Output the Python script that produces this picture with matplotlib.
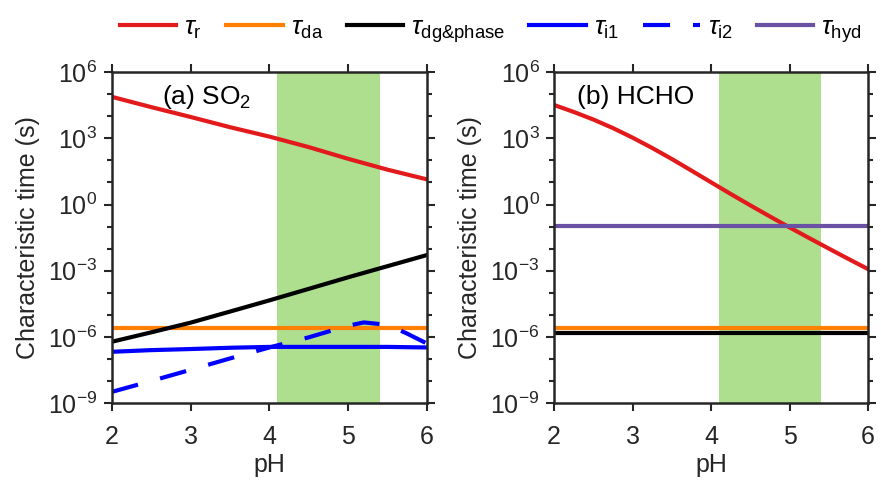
import numpy as np
import matplotlib
matplotlib.use('Agg')
import matplotlib.pyplot as plt
import matplotlib.ticker as mticker

plt.rcParams['font.family'] = ['Liberation Sans', 'DejaVu Sans']
plt.rcParams['mathtext.fontset'] = 'custom'
plt.rcParams['mathtext.rm'] = 'Liberation Sans'
plt.rcParams['mathtext.it'] = 'Liberation Sans:italic'
plt.rcParams['mathtext.bf'] = 'Liberation Sans:bold'

# pH grid shared by most curves
ph = [2.0, 2.5, 3.0, 3.5, 4.0, 4.5, 5.0, 5.5, 6.0]

# (a) SO2 characteristic times (s)
so2_r = [7.6e4, 2.6e4, 9.3e3, 3.2e3, 1.2e3, 400, 118, 38, 13.8]
so2_da = [2.5e-6] * len(ph)
so2_dg = [6.0e-7, 1.6e-6, 4.4e-6, 1.4e-5, 4.5e-5, 1.5e-4, 5.0e-4, 1.6e-3, 5.1e-3]
so2_i1 = [2.1e-7, 2.5e-7, 2.8e-7, 3.2e-7, 3.5e-7, 3.5e-7, 3.5e-7, 3.5e-7, 3.3e-7]
ph_i2 = [2.0, 2.5, 3.0, 3.5, 4.0, 4.5, 5.0, 5.2, 5.5, 5.75, 6.0]
so2_i2 = [3.2e-9, 1.0e-8, 3.2e-8, 1.05e-7, 3.3e-7, 9.5e-7, 3.2e-6, 4.5e-6, 3.5e-6, 1.4e-6, 5.0e-7]

# (b) HCHO characteristic times (s)
ph_fine = [2.0, 2.25, 2.5, 2.75, 3.0, 3.25, 3.5, 3.75, 4.0,
           4.25, 4.5, 4.75, 5.0, 5.25, 5.5, 5.75, 6.0]
hcho_r = [3.24e4, 1.57e4, 7.1e3, 2.9e3, 1.07e3, 363, 115, 34.3, 10.1,
          2.99, 0.912, 0.285, 0.0912, 0.0299, 0.010, 3.39e-3, 1.17e-3]
hcho_da = [2.5e-6] * len(ph)
hcho_dg = [1.55e-6] * len(ph)
hcho_hyd = [0.107] * len(ph)

ph_band = (4.1, 5.4)

c_red = '#e31a1c'
c_orange = '#ff7f00'
c_blue = '#0000ff'
c_purple = '#6a51a3'
c_green = '#addf8f'
c_axis = '#262626'
lw = 3.0
fs = 18

fig = plt.figure(figsize=(8.81, 4.83), dpi=100)
ax1 = fig.add_axes([0.127, 0.1656, 0.3575, 0.685])
ax2 = fig.add_axes([0.629, 0.1656, 0.3564, 0.685])

for ax in (ax1, ax2):
    ax.axvspan(ph_band[0], ph_band[1], color=c_green, lw=0, zorder=0)

ax1.plot(ph, so2_r, color=c_red, lw=lw, label=r'$\tau_{\rm r}$')
ax1.plot(ph, so2_da, color=c_orange, lw=lw, label=r'$\tau_{\rm da}$')
ax1.plot(ph, so2_dg, color='black', lw=lw, label=r'$\tau_{\rm dg&phase}$')
ax1.plot(ph, so2_i1, color=c_blue, lw=lw, label=r'$\tau_{\rm i1}$')
ax1.plot(ph_i2, so2_i2, color=c_blue, lw=lw, ls=(0, (6.5, 5.5)), label=r'$\tau_{\rm i2}$')
ax1.plot([], [], color=c_purple, lw=lw, label=r'$\tau_{\rm hyd}$')

ax2.plot(ph_fine, hcho_r, color=c_red, lw=lw)
ax2.plot(ph, hcho_hyd, color=c_purple, lw=lw)
ax2.plot(ph, hcho_da, color=c_orange, lw=lw)
ax2.plot(ph, hcho_dg, color='black', lw=lw)

for ax in (ax1, ax2):
    ax.set_yscale('log')
    ax.set_xlim(2, 6)
    ax.set_ylim(1e-9, 1e6)
    ax.set_xticks([2, 3, 4, 5, 6])
    ax.yaxis.set_major_locator(mticker.FixedLocator([1e-9, 1e-6, 1e-3, 1e0, 1e3, 1e6]))
    ax.yaxis.set_minor_locator(mticker.FixedLocator([10.0 ** k for k in range(-9, 7)]))
    ax.yaxis.set_minor_formatter(mticker.NullFormatter())
    ax.tick_params(which='both', direction='out', top=True, right=True,
                   color=c_axis, labelcolor=c_axis, labelsize=fs, width=1.5)
    ax.tick_params(which='major', length=5.5)
    ax.tick_params(which='minor', length=3.5)
    ax.tick_params(axis='x', which='major', pad=10)
    ax.tick_params(axis='y', which='major', pad=5)
    for s in ax.spines.values():
        s.set_linewidth(1.8)
        s.set_color(c_axis)
    ax.set_xlabel('pH', fontsize=fs, color=c_axis, labelpad=3)
    ax.set_ylabel('Characteristic time (s)', fontsize=fs, color=c_axis, labelpad=6)

ax1.text(0.16, 0.925, r'(a) SO$_2$', transform=ax1.transAxes, fontsize=19, va='center')
ax2.text(0.073, 0.925, '(b) HCHO', transform=ax2.transAxes, fontsize=19, va='center')

fig.legend(loc='upper center', bbox_to_anchor=(0.557, 1.012), ncol=6, frameon=False,
           fontsize=19, handlelength=2.15, handletextpad=0.3, columnspacing=0.9,
           borderpad=0.3)

fig.savefig('out.png', dpi=100)
